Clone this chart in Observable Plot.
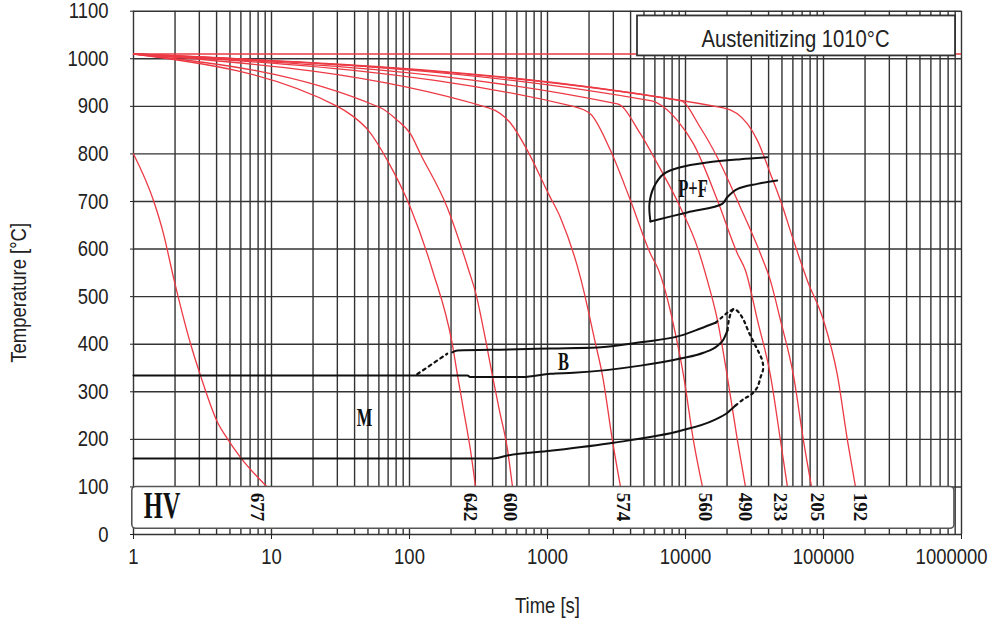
<!DOCTYPE html>
<html><head><meta charset="utf-8">
<script src="https://cdn.jsdelivr.net/npm/d3@7"></script>
<script src="https://cdn.jsdelivr.net/npm/@observablehq/plot@0.6"></script>
<style>body{margin:0;background:#fff}</style>
</head><body><div id="chart"></div>
<script>
// ---- axis ticks ----
const xTicks = [1, 10, 100, 1000, 10000, 100000, 1000000];
const xTickLabels = ["1", "10", "100", "1000", "10000", "100000", "1000000"];
const yTicks = [0, 100, 200, 300, 400, 500, 600, 700, 800, 900, 1000, 1100];
const xGrid = [];
for (let e = 0; e < 6; e++) for (let m = 1; m < 10; m++) xGrid.push(m * 10 ** e);
xGrid.push(1e6);

const austenitizingTemp = 1010;
const austenitizingText = "Austenitizing 1010°C";

// ---- cooling curves [time s, temperature °C] ----
const c677 = [[1,800],[1.40,701],[1.65,632],[1.95,540],[2.59,401],[3.06,334],[4.06,236],[4.80,201],[5.96,162],[9.3,100]];
const c642 = [[1,1010],[30,900],[38.6,880],[50.5,849],[69.3,786],[101.7,687],[146.8,555],[204,401],[223,334],[247,260],[277,176],[301,100]];
const c600 = [[1,1010],[61.6,897],[80,873],[101.7,842],[120,800],[188,687],[269,555],[301,509],[361,400],[399,334],[449,260],[510,183],[558,100]];
const c574 = [[1,1010],[374,897],[539,865],[716,807],[1017,716],[1242,666],[1734,540],[2228,401],[2504,334],[2958,197],[3381,100]];
const c560 = [[1,1010],[1543,900],[2050,884],[2863,807],[3994,702],[5572,590],[6400,555],[8750,401],[9680,334],[11430,197],[13280,100]];
const c490 = [[1,1010],[3214,905],[4720,842],[6270,779],[9200,687],[12220,603],[14430,533],[17060,450],[20040,334],[23820,197],[27200,100]];
const c233 = [[1,1010],[5572,912],[8750,870],[11430,821],[17060,702],[23820,590],[27200,555],[33240,450],[41300,334],[48800,197],[54800,100]];
const c205 = [[1,1010],[9200,912],[12840,855],[17060,792],[25060,687],[34930,590],[41300,533],[48800,450],[60630,334],[71650,197],[81900,100]];
const c192 = [[1,1010],[18850,897],[28130,863],[33240,828],[41300,758],[48800,702],[60630,618],[76560,533],[100000,450],[126300,334],[149300,197],[170500,100]];

// ---- hardness (HV) labels ----
const hardness = ["677", "642", "600", "574", "560", "490", "233", "205", "192"];
const hardnessTimes = [7.88, 277, 539, 3554, 13960, 27200, 48800, 89400, 183300];

// ---- transformation lines [time s, temperature °C] ----
const msLine = [[1,160],[406,160],[513,166],[1051,176],[3008,193],[9200,218],[15950,240],[20150,256],[23020,271]];
const noseDotted = [[23020,271],[26450,285],[29900,294],[33100,309],[34930,330],[36540,348],[35960,366],[33960,383],[31250,404],[28770,425],[26450,450],[24330,467],[22390,474],[21440,467],[20600,450],[20150,429]];
const bsLine = [[204,383],[222,387],[522,389],[1051,391],[2303,393],[4720,404],[9200,418],[12840,433],[16490,445]];
const bsDottedLeft = [[113.7,337],[187.6,380]];
const bsDottedRight = [[16490,445],[18450,457],[20500,468],[22390,474]];
const bfLine = [[1,334],[263,334],[277,331],[659,331],[1051,338],[1543,340],[4720,355],[9200,370],[13500,382],[17060,397],[18850,410],[20150,429]];
const pfUpper = [[5572,658],[5480,695],[5893,730],[6960,758],[9200,772],[14360,782],[25060,789],[39070,793]];
const pfLower = [[5572,658],[10290,677],[18450,695],[20060,709],[23700,726],[33100,737],[46170,744]];

// ---- phase labels ----
const phaseLabels = ["M", "B", "P+F"];
const phaseTimes = [47.2, 1306, 11330];
const phaseTemps = [245, 363, 726];

// ---- boxes ----
const hvBox = {x1: 0.98, x2: 889000, y1: 12, y2: 100};
const austBox = {x1: 4490, x2: 905000, y1: 1006, y2: 1090};

const red = "#ec3a45";
const grid = "#333";
const ink = "#111";
const sans = "'Liberation Sans',Arial,sans-serif";
const serif = "'Liberation Serif','DejaVu Serif',serif";
const X = d => d[0], Y = d => d[1];

const redCurves = [c677, c642, c600, c574, c560, c490, c233, c205, c192];

const chart = Plot.plot({
  width: 988, height: 620,
  marginLeft: 133, marginRight: 27, marginTop: 10.7, marginBottom: 86,
  x: {type: "log", domain: [1, 1e6]},
  y: {domain: [0, 1100]},
  style: {fontFamily: sans, fontSize: "22px", color: "#222", background: "#fff", overflow: "visible"},
  marks: [
    Plot.ruleX(xGrid, {stroke: grid, strokeWidth: 1.4}),
    Plot.ruleY(yTicks, {stroke: grid, strokeWidth: 1.4}),
    Plot.ruleY([austenitizingTemp], {stroke: red, strokeWidth: 1.5}),
    ...redCurves.map(c => Plot.line(c, {x: X, y: Y, stroke: red, strokeWidth: 1.3, curve: "monotone-x"})),
    Plot.line(msLine, {x: X, y: Y, stroke: ink, strokeWidth: 2, curve: "monotone-x"}),
    Plot.line(bfLine, {x: X, y: Y, stroke: ink, strokeWidth: 2, curve: "monotone-x"}),
    Plot.line(bsLine, {x: X, y: Y, stroke: ink, strokeWidth: 2, curve: "monotone-x"}),
    Plot.line(bsDottedLeft, {x: X, y: Y, stroke: ink, strokeWidth: 2.2, strokeDasharray: "3,4"}),
    Plot.line(bsDottedRight, {x: X, y: Y, stroke: ink, strokeWidth: 2.2, strokeDasharray: "2.5,4", curve: "catmull-rom"}),
    Plot.line(noseDotted, {x: X, y: Y, stroke: ink, strokeWidth: 2.2, strokeDasharray: "2.5,4", curve: "catmull-rom"}),
    Plot.line(pfUpper, {x: X, y: Y, stroke: ink, strokeWidth: 2, curve: "catmull-rom"}),
    Plot.line(pfLower, {x: X, y: Y, stroke: ink, strokeWidth: 2, curve: "catmull-rom"}),
    Plot.rect([hvBox], {x1: "x1", x2: "x2", y1: "y1", y2: "y2", fill: "#fff", stroke: "#555", strokeWidth: 1.6, rx: 4}),
    Plot.rect([austBox], {x1: "x1", x2: "x2", y1: "y1", y2: "y2", fill: "#fff", stroke: "#333", strokeWidth: 1.8}),
    Plot.text([austenitizingText], {x: 62700, y: 1040, text: d => d, fontSize: 23, fill: "#222"}),
    Plot.text(hardness, {x: (d, i) => hardnessTimes[i], y: 58, text: d => d, rotate: 90, fontFamily: serif, fontWeight: "bold", fontSize: 19, fill: "#111"}),
    Plot.text(["HV"], {x: 1.61, y: 60, text: d => d, fontFamily: serif, fontWeight: "bold", fontSize: 37, fill: "#111"}),
    Plot.text(phaseLabels, {x: (d, i) => phaseTimes[i], y: (d, i) => phaseTemps[i], text: d => d, fontFamily: serif, fontWeight: "bold", fontSize: 25, fill: "#111"}),
    Plot.axisY({ticks: yTicks, tickSize: 3, tickPadding: 22, tickFormat: d => String(d), label: null, fontSize: 22}),
    Plot.axisX({ticks: xTicks, tickSize: 5, tickFormat: () => "", label: null}),
    Plot.text(xTicks.slice(0, 6), {x: d => d, frameAnchor: "bottom", dy: 22, lineAnchor: "middle", text: (d, i) => xTickLabels[i], fontSize: 22, fill: "#222"}),
    Plot.text(xTicks.slice(6), {x: d => d, frameAnchor: "bottom", dy: 22, dx: 26, lineAnchor: "middle", textAnchor: "end", text: (d, i) => xTickLabels[6 + i], fontSize: 22, fill: "#222"}),
    Plot.text(["Time [s]"], {frameAnchor: "bottom", dy: 71, lineAnchor: "middle", text: d => d, fontSize: 22, fill: "#222"}),
    Plot.text(["Temperature [°C]"], {frameAnchor: "left", dx: -115, dy: 20, rotate: -90, textAnchor: "middle", lineAnchor: "middle", text: d => d, fontSize: 22, fill: "#222"})
  ]
});

document.getElementById("chart").append(chart);

// horizontally condense text, as in the original drawing
function squeeze(node, s) {
  const t = d3.select(node);
  const tr = t.attr("transform");
  if (tr) t.attr("transform", tr + ` scale(${s},1)`);
  else {
    const x = +t.attr("x") || 0, y = +t.attr("y") || 0;
    t.attr("x", null).attr("y", null).attr("transform", `translate(${x},${y}) scale(${s},1)`);
  }
}
d3.select(chart).selectAll("text").each(function () {
  const cs = getComputedStyle(this);
  const fam = cs.fontFamily || "";
  const size = parseFloat(cs.fontSize);
  if (fam.includes("Serif")) {
    if (size > 20) squeeze(this, 0.66);
  } else if (size === 23) squeeze(this, 0.88);
  else squeeze(this, 0.84);
});
</script>
</body></html>
